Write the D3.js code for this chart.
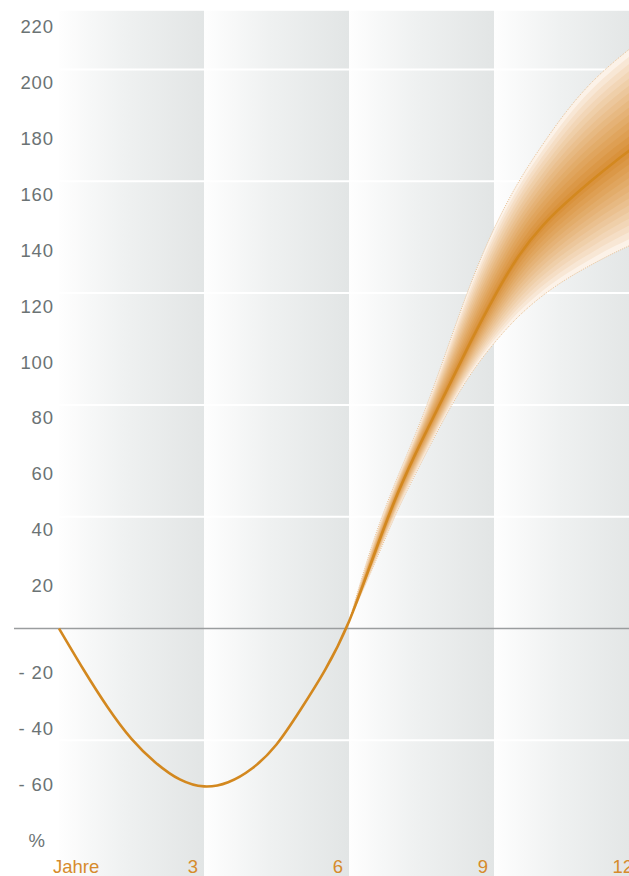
<!DOCTYPE html>
<html><head><meta charset="utf-8">
<script src="https://cdn.jsdelivr.net/npm/d3@7"></script>
<style>html,body{margin:0;padding:0;background:#fff;}svg{display:block;}</style>
</head><body>
<script>
// ---- data ----
const years  = [0,0.5,1,1.5,2,2.5,3,3.5,4,4.5,5,5.5,6,6.5,7,7.5,8,8.5,9,9.5,10,10.5,11,11.5,12];
const median = [0,-14.5,-28,-39.5,-48,-54,-56.5,-55,-50,-41.5,-29,-15,2.5,25.5,48,67,84.5,102,118.5,133,144,152.5,160,167,173.5];
const fanYears = [6,6.5,7,7.5,8,8.5,9,9.5,10,10.5,11,11.5,12];
const fanUpper = [2.5,31,54,75,98.5,122.5,143,159.5,173,185,195,203,210];
const fanLower = [2.5,22,42,59.5,76,90.5,102,111.5,119,125,130,134.5,138.5];
const yTickPos = [220,200,180,160,140,120,100,80,60,40,20];
const yTickNeg = [-20,-40,-60];
const gridVals = [200,160,120,80,40,-40];
const xTicks = [3,6,9,12];
const panels = [[0,3],[3,6],[6,9],[9,12]];

const W = 629, H = 876;
const svg = d3.select("body").append("svg").attr("width", W).attr("height", H);

const x = d3.scaleLinear().domain([0, 12]).range([59, 639]);
const y = d3.scaleLinear().domain([0, 200]).range([628.5, 69.5]);

const defs = svg.append("defs");
const g = defs.append("linearGradient").attr("id", "pg").attr("x1", "0").attr("x2", "1").attr("y1", "0").attr("y2", "0");
g.append("stop").attr("offset", "0%").attr("stop-color", "#fefefe");
g.append("stop").attr("offset", "45%").attr("stop-color", "#eff1f1");
g.append("stop").attr("offset", "100%").attr("stop-color", "#e2e5e5");

// panels
svg.append("g").selectAll("rect").data(panels).join("rect")
  .attr("x", d => x(d[0])).attr("width", d => x(d[1]) - x(d[0]))
  .attr("y", y(221)).attr("height", H - y(221))
  .attr("fill", "url(#pg)");

// grid lines
svg.append("g").selectAll("line").data(gridVals).join("line")
  .attr("x1", x(0)).attr("x2", W)
  .attr("y1", d => y(d)).attr("y2", d => y(d))
  .attr("stroke", "#ffffff").attr("stroke-width", 2);

// fan
const fan = fanYears.map((t, i) => {
  const mi = years.indexOf(t);
  return {t, m: median[mi], u: fanUpper[i], l: fanLower[i]};
});
const N = 14;
const col = d3.interpolateRgb("#fcf2e8", "#d9923c");
const curve = d3.curveNatural;
const fg = svg.append("g");
for (let k = 0; k < N; k++) {
  const f = 1 - k / N;
  const c = col(Math.pow(k / (N - 1), 0.85));
  const area = d3.area().curve(curve)
    .x(d => x(d.t))
    .y0(d => y(d.m + (d.l - d.m) * f))
    .y1(d => y(d.m + (d.u - d.m) * f));
  fg.append("path").datum(fan).attr("d", area).attr("fill", c);
}
// dotted outline
const edge = key => d3.line().curve(curve).x(d => x(d.t)).y(d => y(d[key]));
["u","l"].forEach(k => fg.append("path").datum(fan).attr("d", edge(k))
  .attr("fill","none").attr("stroke","#e2b27c").attr("stroke-width",0.8).attr("stroke-dasharray","1,1.2"));

// zero line
svg.append("line").attr("x1", 14).attr("x2", W).attr("y1", y(0)).attr("y2", y(0))
  .attr("stroke", "#9a9d9e").attr("stroke-width", 1.4);

// median line
const pts = years.map((t, i) => ({t, v: median[i]}));
svg.append("path").datum(pts)
  .attr("d", d3.line().curve(d3.curveNatural).x(d => x(d.t)).y(d => y(d.v)))
  .attr("fill", "none").attr("stroke", "#d3881f").attr("stroke-width", 2.6);

// y labels
const font = "'Liberation Sans', Arial, Helvetica, sans-serif";
const yl = svg.append("g").attr("font-family", font).attr("font-size", "18.5px").attr("fill", "#6b7374");
yl.selectAll("text.p").data(yTickPos).join("text").attr("class","p")
  .attr("x", 54).attr("y", d => y(d) + 19.5).attr("text-anchor", "end").attr("letter-spacing", "0.9px")
  .text(d => d);
yl.selectAll("text.n").data(yTickNeg).join("text").attr("class","n")
  .attr("x", 54).attr("y", d => y(d) - 5).attr("text-anchor", "end").attr("letter-spacing", "0.9px")
  .text(d => "- " + Math.abs(d));
yl.append("text").attr("x", 45).attr("y", y(-80) - 5.3).attr("text-anchor", "end").text("%");

// x labels
const xl = svg.append("g").attr("font-family", font).attr("font-size", "18.5px").attr("fill", "#d68b2c");
xl.append("text").attr("x", 53).attr("y", 872.5).text("Jahre");
xl.selectAll("text.t").data(xTicks).join("text").attr("class","t")
  .attr("x", d => x(d) - 6).attr("y", 872.5).attr("text-anchor", "end").text(d => d);
</script>
</body></html>
